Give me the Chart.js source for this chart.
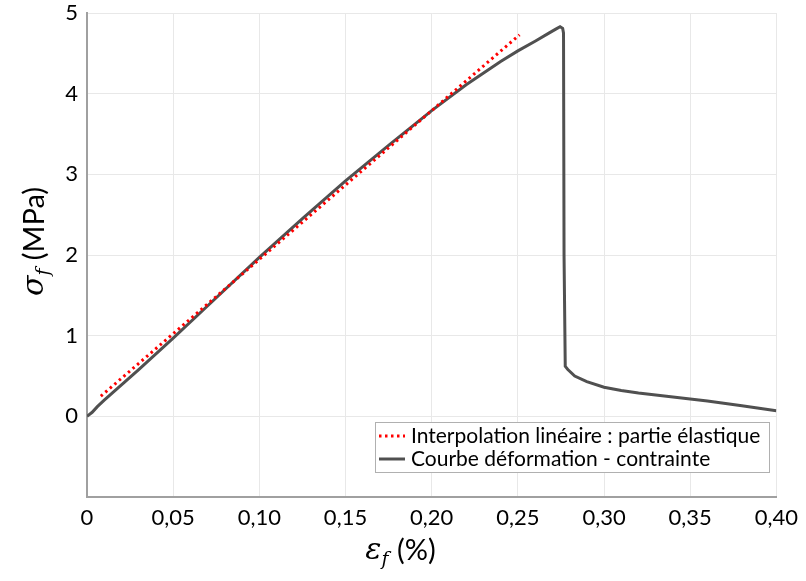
<!DOCTYPE html>
<html>
<head>
<meta charset="utf-8">
<script src="https://cdn.jsdelivr.net/npm/chart.js@4.4.1/dist/chart.umd.min.js"></script>
<style>
  body { margin: 0; background: #fff; }
</style>
</head>
<body>
<canvas id="myChart" width="806" height="581"></canvas>
<script>
// Courbe déformation - contrainte
const strainX = [0, 0.003, 0.006, 0.01, 0.02, 0.03, 0.05, 0.075, 0.1, 0.125, 0.15, 0.175, 0.2, 0.22, 0.24, 0.25, 0.26, 0.268, 0.272, 0.2745, 0.276, 0.2765, 0.2768, 0.2775, 0.279, 0.283, 0.29, 0.3, 0.31, 0.32, 0.34, 0.36, 0.38, 0.4];
const stressY = [0, 0.05, 0.12, 0.2, 0.39, 0.58, 0.97, 1.47, 1.97, 2.45, 2.92, 3.36, 3.79, 4.11, 4.4, 4.53, 4.65, 4.75, 4.8, 4.83, 4.81, 4.75, 2.0, 0.62, 0.58, 0.5, 0.43, 0.36, 0.32, 0.29, 0.24, 0.19, 0.13, 0.07];

// Interpolation linéaire : partie élastique
const interpX = [0.008, 0.251];
const interpY = [0.25, 4.73];

const labels = ['Interpolation linéaire : partie élastique', 'Courbe déformation - contrainte'];
const xTitle = ['ε', 'f', ' (%)'];
const yTitle = ['σ', 'f', ' (MPa)'];

const tickFont = 'Lato';

function toPoints(xs, ys) {
    return xs.map((x, i) => ({ x: x, y: ys[i] }));
}

// Titre d'axe avec indice en italique
function drawTitle(ctx, parts, cx, cy, rotate) {
    ctx.save();
    ctx.translate(cx, cy);
    if (rotate) ctx.rotate(-Math.PI / 2);
    const f1 = 'italic 30px "DejaVu Serif"';
    const f2 = 'italic 19px "DejaVu Serif"';
    const f3 = '29px ' + tickFont;
    ctx.font = f1; const w1 = ctx.measureText(parts[0]).width;
    ctx.font = f2; const w2 = ctx.measureText(parts[1]).width;
    ctx.font = f3; const w3 = ctx.measureText(parts[2]).width;
    let x = -(w1 + w2 + w3) / 2;
    ctx.fillStyle = '#000';
    ctx.textBaseline = 'alphabetic';
    ctx.font = f1; ctx.fillText(parts[0], x, 9); x += w1;
    ctx.font = f2; ctx.fillText(parts[1], x, 15); x += w2 + 1;
    ctx.font = f3; ctx.fillText(parts[2], x, 10);
    ctx.restore();
}

const decorPlugin = {
    id: 'decor',
    afterDraw(chart) {
        const ctx = chart.ctx;
        drawTitle(ctx, yTitle, 34, 242, true);
        drawTitle(ctx, xTitle, 400, 550, false);

        // Légende
        const bx = 375, by = 422, bw = 394, bh = 50;
        ctx.save();
        ctx.fillStyle = '#fff';
        ctx.fillRect(bx, by, bw, bh);
        ctx.strokeStyle = '#b0b0b0';
        ctx.lineWidth = 1;
        ctx.strokeRect(bx + 0.5, by + 0.5, bw, bh);
        const rows = [by + 14, by + 37];
        ctx.lineWidth = 3;
        ctx.strokeStyle = 'red';
        ctx.setLineDash([2.5, 3.5]);
        ctx.beginPath(); ctx.moveTo(379, rows[0]); ctx.lineTo(405, rows[0]); ctx.stroke();
        ctx.setLineDash([]);
        ctx.strokeStyle = '#505050';
        ctx.beginPath(); ctx.moveTo(379, rows[1]); ctx.lineTo(405, rows[1]); ctx.stroke();
        ctx.fillStyle = '#000';
        ctx.font = '21px ' + tickFont;
        ctx.textBaseline = 'middle';
        ctx.fillText(labels[0], 411, rows[0]);
        ctx.fillText(labels[1], 411, rows[1]);
        ctx.restore();
    }
};

const ctx = document.getElementById('myChart').getContext('2d');
const myChart = new Chart(ctx, {
    type: 'line',
    data: {
        datasets: [{
            label: labels[0],
            data: toPoints(interpX, interpY),
            borderColor: 'red',
            borderWidth: 3,
            borderDash: [2.5, 3.5],
            pointRadius: 0,
            fill: false
        }, {
            label: labels[1],
            data: toPoints(strainX, stressY),
            borderColor: '#505050',
            borderWidth: 3,
            pointRadius: 0,
            tension: 0,
            fill: false
        }]
    },
    options: {
        responsive: false,
        animation: false,
        layout: { padding: { top: 13, right: 29, left: 0, bottom: 0 } },
        plugins: {
            legend: { display: false },
            tooltip: { enabled: false }
        },
        scales: {
            x: {
                type: 'linear',
                min: 0,
                max: 0.4,
                ticks: {
                    stepSize: 0.05,
                    color: '#000',
                    font: { family: tickFont, size: 22 },
                    padding: 8,
                    maxRotation: 0,
                    callback: v => v === 0 ? '0' : v.toFixed(2).replace('.', ',')
                },
                grid: { color: '#e8e8e8', drawTicks: false },
                border: { color: '#a0a0a0', width: 2 },
                afterFit: s => { s.height = 84; }
            },
            y: {
                min: -1,
                max: 5,
                ticks: {
                    stepSize: 1,
                    color: '#000',
                    font: { family: tickFont, size: 22 },
                    padding: 9,
                    callback: v => v === -1 ? '' : String(v)
                },
                grid: { color: '#e8e8e8', drawTicks: false },
                border: { color: '#a0a0a0', width: 2 },
                afterFit: s => { s.width = 87; s.paddingTop = 0; s.paddingBottom = 0; }
            }
        }
    },
    plugins: [decorPlugin]
});
</script>
</body>
</html>
